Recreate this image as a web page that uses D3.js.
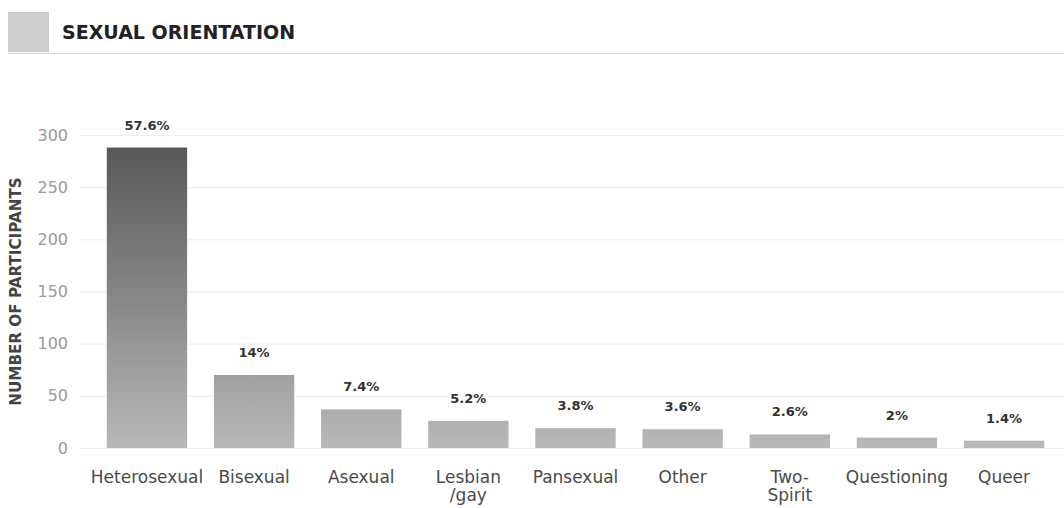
<!DOCTYPE html>
<html>
<head>
<meta charset="utf-8">
<script src="https://cdn.jsdelivr.net/npm/d3@7/dist/d3.min.js"></script>
<style>
  html, body { margin: 0; padding: 0; background: #fff; }
  svg { display: block; font-family: "DejaVu Sans", sans-serif; }
</style>
</head>
<body>
<svg id="chart" width="1064" height="508"></svg>
<script>
// Sexual orientation of survey participants
const categories = ["Heterosexual", "Bisexual", "Asexual", "Lesbian\n/gay", "Pansexual",
                    "Other", "Two-\nSpirit", "Questioning", "Queer"];
const percents = [57.6, 14, 7.4, 5.2, 3.8, 3.6, 2.6, 2, 1.4];
const totalParticipants = 500;
const yTicks = [0, 50, 100, 150, 200, 250, 300];

const counts = percents.map(p => p / 100 * totalParticipants);

const svg = d3.select("#chart");
const W = 1064, H = 508;

const x = d3.scaleBand()
  .domain(categories)
  .range([80, 1071])
  .padding(0.25);

const y = d3.scaleLinear()
  .domain([0, 300])
  .range([448, 135]);

// Vertical grey gradient shared by all bars (dark at the top of the scale)
const defs = svg.append("defs");
const grad = defs.append("linearGradient")
  .attr("id", "barGrad")
  .attr("gradientUnits", "userSpaceOnUse")
  .attr("x1", 0).attr("x2", 0)
  .attr("y1", y(300)).attr("y2", y(0));
grad.append("stop").attr("offset", 0).attr("stop-color", "#545454");
grad.append("stop").attr("offset", 0.55).attr("stop-color", "#8a8a8a");
grad.append("stop").attr("offset", 0.78).attr("stop-color", "#a2a2a2");
grad.append("stop").attr("offset", 1).attr("stop-color", "#b8b8b8");

// Header: icon square, title, rule
svg.append("rect")
  .attr("x", 8).attr("y", 12).attr("width", 41).attr("height", 40)
  .attr("fill", "#cdcdcd");
svg.append("text")
  .attr("x", 62).attr("y", 39)
  .attr("font-size", 19).attr("font-weight", "bold")
  .attr("fill", "#222")
  .text("SEXUAL ORIENTATION");
svg.append("line")
  .attr("x1", 8).attr("x2", W)
  .attr("y1", 53.5).attr("y2", 53.5)
  .attr("stroke", "#d6d6d6").attr("stroke-width", 1);

// Gridlines and y tick labels
const yAxis = d3.axisLeft(y)
  .tickValues(yTicks)
  .tickSize(-(W - 80))
  .tickPadding(12);
const gy = svg.append("g")
  .attr("transform", "translate(80,0)")
  .call(yAxis);
gy.select(".domain").remove();
gy.selectAll(".tick line").attr("stroke", "#eeeeee");
gy.selectAll(".tick text")
  .attr("font-family", "DejaVu Sans, sans-serif")
  .attr("font-size", 16)
  .attr("fill", "#9a9a9a");

// Y axis title
svg.append("text")
  .attr("transform", `translate(21,${(y(0) + y(300)) / 2}) rotate(-90)`)
  .attr("text-anchor", "middle")
  .attr("font-size", 15.2).attr("font-weight", "bold")
  .attr("fill", "#444")
  .text("NUMBER OF PARTICIPANTS");

// Bars
svg.append("g").selectAll("rect")
  .data(categories)
  .join("rect")
  .attr("x", d => x(d))
  .attr("width", x.bandwidth())
  .attr("y", (d, i) => y(counts[i]))
  .attr("height", (d, i) => y(0) - y(counts[i]))
  .attr("fill", "url(#barGrad)");

// Percentage labels above bars
svg.append("g").selectAll("text")
  .data(categories)
  .join("text")
  .attr("x", d => x(d) + x.bandwidth() / 2)
  .attr("y", (d, i) => y(counts[i]) - 18)
  .attr("text-anchor", "middle")
  .attr("font-size", 13).attr("font-weight", "bold")
  .attr("fill", "#333")
  .text((d, i) => percents[i] + "%");

// Category labels (may wrap onto two lines)
const xAxis = d3.axisBottom(x).tickSize(0).tickPadding(0).tickFormat("");
const gx = svg.append("g")
  .attr("transform", `translate(0,${y(0)})`)
  .call(xAxis);
gx.select(".domain").remove();
gx.selectAll(".tick").each(function(d) {
  const t = d3.select(this).append("text")
    .attr("text-anchor", "middle")
    .attr("font-family", "DejaVu Sans, sans-serif")
    .attr("font-size", 17)
    .attr("fill", "#4a4a4a");
  d.split("\n").forEach((line, k) => {
    t.append("tspan").attr("x", 0).attr("y", 35 + k * 18).text(line);
  });
});
</script>
</body>
</html>
